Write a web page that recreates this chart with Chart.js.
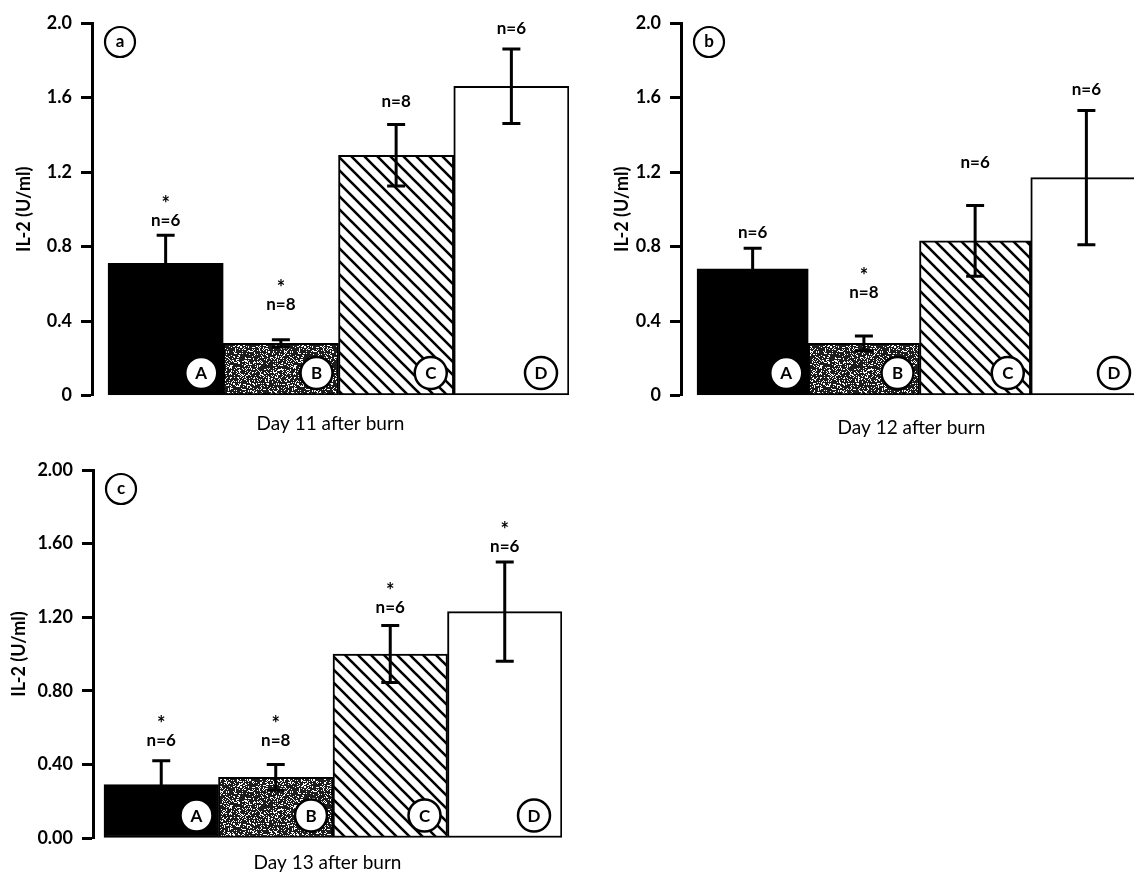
<!DOCTYPE html>
<html>
<head>
<meta charset="utf-8">
<script src="https://cdn.jsdelivr.net/npm/chart.js@4.4.1/dist/chart.umd.min.js"></script>
<style>
  html, body { margin: 0; padding: 0; background: #fff; overflow: hidden; width: 1134px; height: 872px; }
  canvas { position: absolute; }
</style>
</head>
<body>
<canvas id="day11" width="580" height="440" style="left:0;top:0"></canvas>
<canvas id="day12" width="560" height="440" style="left:590px;top:0"></canvas>
<canvas id="day13" width="580" height="432" style="left:0;top:440px"></canvas>
<script>
// groups A-D, IL-2 (U/ml) mean and SEM
const groups = ['A', 'B', 'C', 'D'];

const day11Mean = [0.71, 0.28, 1.29, 1.66];
const day11Sem = [0.15, 0.02, 0.165, 0.20];
const day11N = [6, 8, 8, 6];
const day11Star = [true, true, false, false];
const day11LabelAt = [0.94, 0.49, 1.58, 1.97];

const day12Mean = [0.68, 0.28, 0.83, 1.17];
const day12Sem = [0.11, 0.04, 0.19, 0.36];
const day12N = [6, 8, 6, 6];
const day12Star = [false, true, false, false];
const day12LabelAt = [0.875, 0.555, 1.25, 1.645];

const day13Mean = [0.29, 0.33, 1.00, 1.23];
const day13Sem = [0.13, 0.07, 0.155, 0.27];
const day13N = [6, 8, 6, 6];
const day13Star = [true, true, true, true];
const day13LabelAt = [0.53, 0.53, 1.25, 1.585];

const ticksShort = ['0', '0.4', '0.8', '1.2', '1.6', '2.0'];
const ticksLong = ['0.00', '0.40', '0.80', '1.20', '1.60', '2.00'];

const FONT = 'Lato, "DejaVu Sans", sans-serif';

function stipple() {
  const c = document.createElement('canvas');
  c.width = c.height = 64;
  const g = c.getContext('2d');
  g.fillStyle = '#1c1c1c';
  g.fillRect(0, 0, 64, 64);
  g.fillStyle = '#fff';
  for (let j = 0; j < 64; j++) {
    for (let i = 0; i < 64; i++) {
      let h = Math.imul(i, 374761393) + Math.imul(j, 668265263);
      h = Math.imul(h ^ (h >>> 13), 1274126177);
      h ^= h >>> 16;
      if ((h >>> 0) % 100 < 24) g.fillRect(i, j, 1, 1);
    }
  }
  return g.createPattern(c, 'repeat');
}

function hatch() {
  const s = 13;
  const c = document.createElement('canvas');
  c.width = c.height = s;
  const g = c.getContext('2d');
  g.fillStyle = '#fff';
  g.fillRect(0, 0, s, s);
  g.strokeStyle = '#000';
  g.lineWidth = 2.6;
  g.beginPath();
  for (const k of [-1, 0, 1]) {
    g.moveTo(k * s - 1, -1);
    g.lineTo(k * s + s + 1, s + 1);
  }
  g.stroke();
  return g.createPattern(c, 'repeat');
}

const fills = ['#000', stipple(), hatch(), '#fff'];

// error bars, n= labels, asterisks, lettered circles
const annotate = {
  id: 'annotate',
  afterDatasetsDraw(chart, args, o) {
    const { ctx, chartArea } = chart;
    const y = chart.scales.y;
    const bars = chart.getDatasetMeta(0).data;
    ctx.save();
    ctx.strokeStyle = '#000';
    ctx.fillStyle = '#000';
    ctx.textAlign = 'center';
    ctx.textBaseline = 'middle';
    bars.forEach((bar, i) => {
      const hi = y.getPixelForValue(o.mean[i] + o.sem[i]);
      const lo = y.getPixelForValue(o.mean[i] - o.sem[i]);
      ctx.lineWidth = 3;
      ctx.beginPath();
      ctx.moveTo(bar.x, hi); ctx.lineTo(bar.x, lo);
      ctx.moveTo(bar.x - 9, hi); ctx.lineTo(bar.x + 9, hi);
      ctx.moveTo(bar.x - 9, lo); ctx.lineTo(bar.x + 9, lo);
      ctx.stroke();

      const ly = y.getPixelForValue(o.labelAt[i]);
      ctx.fillStyle = '#000';
      ctx.font = 'bold 17px ' + FONT;
      ctx.fillText('n=' + o.n[i], bar.x, ly);
      if (o.star[i]) {
        ctx.font = 'bold 20px ' + FONT;
        ctx.fillText('*', bar.x, ly - 16);
      }

      const cx = bar.x + bar.width / 2 - o.inset[i];
      const cy = bar.base - 22;
      ctx.beginPath();
      ctx.arc(cx, cy, 16, 0, Math.PI * 2);
      ctx.fillStyle = '#fff';
      ctx.fill();
      ctx.lineWidth = 2.5;
      ctx.stroke();
      ctx.fillStyle = '#000';
      ctx.font = 'bold 17px ' + FONT;
      ctx.fillText(groups[i], cx, cy + 1);
    });

    const px = chartArea.left + 28, py = chartArea.top + 19;
    ctx.beginPath();
    ctx.arc(px, py, 15, 0, Math.PI * 2);
    ctx.fillStyle = '#fff';
    ctx.fill();
    ctx.lineWidth = 2.2;
    ctx.stroke();
    ctx.fillStyle = '#000';
    ctx.font = 'bold 17px ' + FONT;
    ctx.fillText(o.panel, px, py);
    ctx.restore();
  }
};

function makeChart(id, p) {
  return new Chart(document.getElementById(id), {
    type: 'bar',
    data: {
      datasets: [{
        data: p.mean.map((v, i) => ({ x: i, y: v })),
        backgroundColor: fills,
        borderColor: '#000',
        borderWidth: 2,
        borderSkipped: false,
        barPercentage: 1,
        categoryPercentage: 1
      }]
    },
    options: {
      responsive: false,
      animation: false,
      layout: { padding: { top: p.top, right: p.right, left: 0, bottom: 0 } },
      plugins: {
        legend: { display: false },
        tooltip: { enabled: false },
        annotate: {
          mean: p.mean, sem: p.sem, n: p.n, star: p.star, labelAt: p.labelAt,
          panel: p.panel, inset: [22, 22, 23, 28]
        }
      },
      scales: {
        x: {
          type: 'linear',
          offset: false,
          min: p.xmin,
          max: 3.5,
          grid: { display: false },
          border: { display: false },
          ticks: { display: false },
          // one tick per group so the bar ruler spans a whole group
          afterBuildTicks: s => { s.ticks = groups.map((g, i) => ({ value: i })); },
          title: {
            display: true,
            text: p.xTitle,
            color: '#000',
            font: { family: FONT, size: 19, lineHeight: 1 },
            padding: { top: 0, bottom: p.xTitlePad }
          },
          afterFit: s => { s.height = p.xHeight; }
        },
        y: {
          min: 0,
          max: 2,
          ticks: {
            stepSize: 0.4,
            color: '#000',
            padding: 9,
            font: { family: FONT, size: 18, weight: 'bold' },
            callback: (v, i) => p.ticks[i]
          },
          grid: { drawOnChartArea: false, drawTicks: true, tickLength: 11, tickWidth: 3, tickColor: '#000' },
          border: { display: true, width: 3, color: '#000' },
          title: {
            display: true,
            text: 'IL-2 (U/ml)',
            color: '#000',
            font: { family: FONT, size: 18, weight: 'bold' },
            padding: { top: p.yTitlePad, bottom: 0 }
          },
          afterFit: s => { s.width = p.axisX; }
        }
      }
    },
    plugins: [annotate]
  });
}

makeChart('day11', {
  mean: day11Mean, sem: day11Sem, n: day11N, star: day11Star, labelAt: day11LabelAt,
  ticks: ticksShort, panel: 'a', xTitle: 'Day 11 after burn',
  top: 23, right: 11, axisX: 92, xmin: -0.639, xHeight: 44.5, xTitlePad: 7, yTitlePad: 13
});

makeChart('day12', {
  mean: day12Mean, sem: day12Sem, n: day12N, star: day12Star, labelAt: day12LabelAt,
  ticks: ticksShort, panel: 'b', xTitle: 'Day 12 after burn',
  top: 23, right: 8, axisX: 91, xmin: -0.644, xHeight: 44.5, xTitlePad: 3, yTitlePad: 21
});

makeChart('day13', {
  mean: day13Mean, sem: day13Sem, n: day13N, star: day13Star, labelAt: day13LabelAt,
  ticks: ticksLong, panel: 'c', xTitle: 'Day 13 after burn',
  top: 30, right: 18, axisX: 93, xmin: -0.596, xHeight: 34, xTitlePad: 0, yTitlePad: 8
});
</script>
</body>
</html>
